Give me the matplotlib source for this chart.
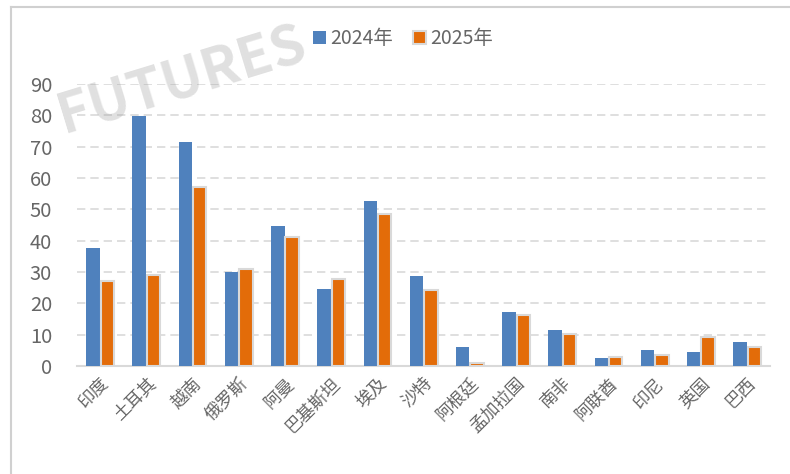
import numpy as np
import matplotlib.pyplot as plt
from matplotlib.lines import Line2D

plt.rcParams["font.family"] = ["Noto Sans CJK SC", "DejaVu Sans"]

countries = ["印度", "土耳其", "越南", "俄罗斯", "阿曼", "巴基斯坦", "埃及", "沙特",
             "阿根廷", "孟加拉国", "南非", "阿联酋", "印尼", "英国", "巴西"]
vals_2024 = [37.7, 79.9, 71.5, 29.9, 44.6, 24.7, 52.6, 28.6, 5.9, 17.1, 11.6, 2.6, 5.1, 4.4, 7.6]
vals_2025 = [27.2, 28.9, 57.0, 30.8, 41.2, 27.6, 48.4, 24.1, 0.9, 16.3, 10.3, 2.8, 3.4, 9.3, 6.0]
yticks = [0, 10, 20, 30, 40, 50, 60, 70, 80, 90]

fig = plt.figure(figsize=(7.9, 4.74), dpi=100)
ax = fig.add_axes([0.0975, 0.228, 0.8775, 0.595])

x = np.arange(len(countries))
w = 0.29
ax.bar(x - w / 2 - 0.01, vals_2024, w, color="#4F81BD", label="2024年", zorder=3)
ax.bar(x + w / 2 + 0.01, vals_2025, w, color="#E36C09", edgecolor="#d9d9d9",
       linewidth=1.5, label="2025年", zorder=3)

ax.set_xlim(-0.5, len(countries) - 0.5)
ax.set_ylim(0, 90)
ax.set_yticks(yticks)
ax.yaxis.grid(True, color="#d9d9d9", linestyle=(0, (5, 3)), linewidth=1.2, zorder=0)
for s in ["top", "right", "left"]:
    ax.spines[s].set_visible(False)
ax.spines["bottom"].set_color("#d9d9d9")
ax.spines["bottom"].set_linewidth(1.5)
ax.tick_params(axis="both", length=0, colors="#666666", labelsize=14.5)
ax.tick_params(axis="y", pad=18)
ax.set_xticks(x)
ax.set_xticklabels(countries, rotation=45, ha="right", rotation_mode="anchor", fontsize=12.5)
ax.tick_params(axis="x", pad=6)

ax.legend(loc="lower center", bbox_to_anchor=(0.47, 1.06), ncol=2, frameon=False,
          fontsize=14, handlelength=0.7, handleheight=0.7, handletextpad=0.2,
          columnspacing=1.0, labelcolor="#666666")

# outer chart border
fig.add_artist(Line2D([11 / 790, 1], [1 - 7 / 474, 1 - 7 / 474], color="#d0d0d0", lw=1.5))
fig.add_artist(Line2D([11 / 790, 11 / 790], [0, 1 - 7 / 474], color="#d0d0d0", lw=1.5))

# watermark
fig.text(0.23, 0.83, "FUTURES", fontsize=40, fontweight="bold", color="#9a9a9a",
         alpha=0.3, rotation=17, ha="center", va="center")

fig.savefig("out.png", dpi=100)
